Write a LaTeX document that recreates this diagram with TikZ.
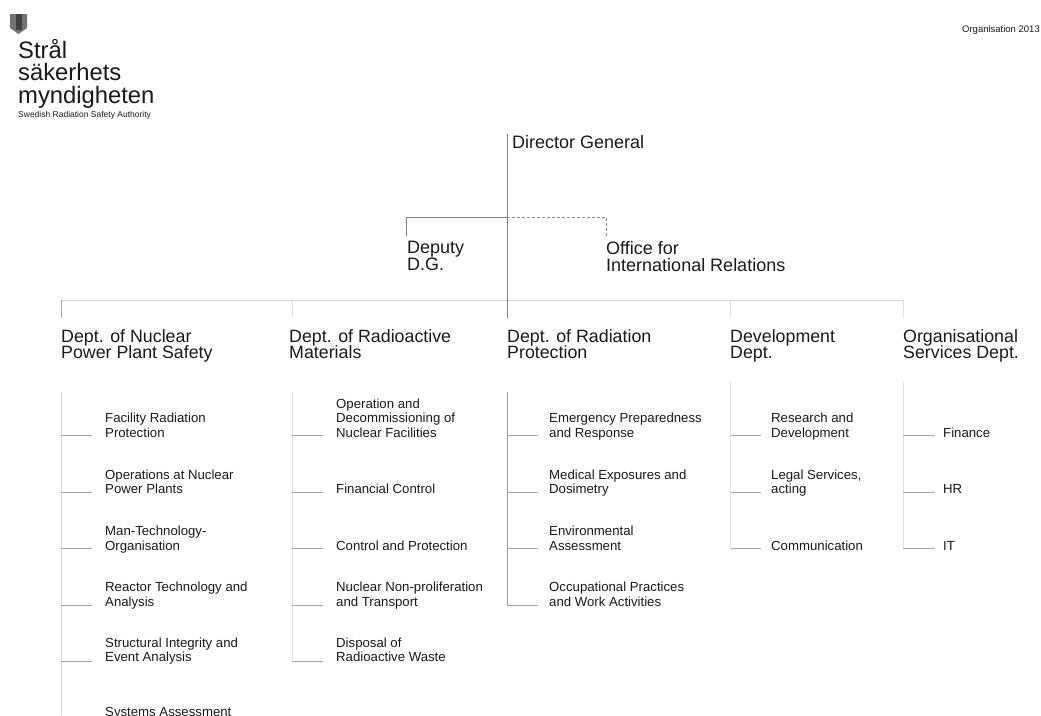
\documentclass[tikz,border=0pt]{standalone}
\usepackage{fontspec}
\setmainfont{Liberation Sans}
\newcommand{\tightlines}{\lineskiplimit=-30pt\relax}
\begin{document}
\begin{tikzpicture}[x=1pt,y=-1pt,
  txt/.style={inner sep=0pt,anchor=base west,align=left,text=black!90,execute at begin node={\tightlines}},
  head/.style={txt,font=\fontsize{17.8}{15.6}\selectfont},
  headwide/.style={txt,font=\fontsize{18}{17}\selectfont},
  sub/.style={txt,font=\fontsize{13.2}{14.2}\selectfont},
  dark/.style={draw=black!50,line width=1pt},
  mid/.style={draw=black!35,line width=.8pt},
  pale/.style={draw=black!15,line width=1pt},
  paler/.style={draw=black!12,line width=.8pt}]
\useasboundingbox (0,0) rectangle (1041,715);
\clip (0,0) rectangle (1041,715);
% logo
\fill[black!55] (10,14) -- (27,14) -- (27,28) -- (18.5,34) -- (10,28) -- cycle;
\fill[black!75] (16,14) rectangle (22,30);
\node[txt,font=\fontsize{23.8}{22.5}\selectfont] (logo) at (18,103) {Strål\\säkerhets\\myndigheten};
\node[txt,font=\fontsize{8.5}{9}\selectfont] (logosub) at (18,117) {Swedish Radiation Safety Authority};
\node[txt,font=\fontsize{9.5}{10}\selectfont,anchor=base east] (year) at (1040,32) {Organisation 2013};
% top
\node[headwide] (dg) at (512,148) {Director General};
\node[headwide] (deputy) at (407,270) {Deputy\\D.G.};
\node[headwide] (office) at (606,271) {Office for\\International Relations};
\coordinate (dgtop) at (507,134);
\coordinate (dgbot) at (507,318);
\coordinate (br) at (507,217);
\coordinate (depend) at (406,236);
\coordinate (offend) at (606,236);
\coordinate (barL) at (61,300);
\coordinate (barR) at (903,300);
\draw[pale] (barL) -- (barR);
\draw[dark] (dgtop) -- (dgbot);
\draw[dark] (br) -| (depend);
\draw[densely dashed,draw=black!45,line width=.8pt] (br) -| (offend);
% departments
\node[head] (d1) at (61,358) {Dept. of Nuclear\\Power Plant Safety};
\node[head] (d2) at (289,358) {Dept. of Radioactive\\Materials};
\node[head] (d3) at (507,358) {Dept. of Radiation\\Protection};
\node[head] (d4) at (730,358) {Development\\Dept.};
\node[head] (d5) at (903,358) {Organisational\\Services Dept.};
\draw[mid] (barL) -- (61,318);
\draw[paler] (292,300) -- (292,318);
\draw[paler] (730,300) -- (730,318);
\draw[paler] (903,300) -- (903,318);
% column 1
\coordinate (c1a) at (61,392); \coordinate (c1b) at (61,715);
\draw[pale] (c1a) -- (c1b);
\node[sub] (s1a) at (105,437) {Facility Radiation\\Protection};
\node[sub] (s1b) at (105,493.5) {Operations at Nuclear\\Power Plants};
\node[sub] (s1c) at (105,550) {Man-Technology-\\Organisation};
\node[sub] (s1d) at (105,606) {Reactor Technology and\\Analysis};
\node[sub] (s1e) at (105,661.5) {Structural Integrity and\\Event Analysis};
\node[sub] (s1f) at (105,716.5) {Systems Assessment};
\foreach \y in {435.5,492,548,605,661}{\draw[mid] (61,\y) -- ++(31,0);}
% column 2
\coordinate (c2a) at (292,392); \coordinate (c2b) at (292,661);
\draw[paler] (c2a) -- (c2b);
\node[sub] (s2a) at (336,437) {Operation and\\Decommissioning of\\Nuclear Facilities};
\node[sub] (s2b) at (336,493.5) {Financial Control};
\node[sub] (s2c) at (336,550) {Control and Protection};
\node[sub] (s2d) at (336,606) {Nuclear Non-proliferation\\and Transport};
\node[sub] (s2e) at (336,661.5) {Disposal of\\Radioactive Waste};
\foreach \y in {435.5,492,548,605,661}{\draw[mid] (292,\y) -- ++(31,0);}
% column 3
\coordinate (c3a) at (507,392); \coordinate (c3b) at (507,605);
\draw[draw=black!40,line width=1pt] (c3a) -- (c3b);
\node[sub] (s3a) at (549,437) {Emergency Preparedness\\and Response};
\node[sub] (s3b) at (549,493.5) {Medical Exposures and\\Dosimetry};
\node[sub] (s3c) at (549,550) {Environmental\\Assessment};
\node[sub] (s3d) at (549,606) {Occupational Practices\\and Work Activities};
\foreach \y in {435.5,492,548,605}{\draw[mid] (507,\y) -- ++(31,0);}
% column 4
\coordinate (c4a) at (730,382); \coordinate (c4b) at (730,548);
\draw[paler] (c4a) -- (c4b);
\node[sub] (s4a) at (771,437) {Research and\\Development};
\node[sub] (s4b) at (771,493.5) {Legal Services,\\acting};
\node[sub] (s4c) at (771,550) {Communication};
\foreach \y in {435.5,492,548}{\draw[mid] (731,\y) -- ++(30,0);}
% column 5
\coordinate (c5a) at (903,382); \coordinate (c5b) at (903,548);
\draw[paler] (c5a) -- (c5b);
\node[sub] (s5a) at (943,437) {Finance};
\node[sub] (s5b) at (943,493.5) {HR};
\node[sub] (s5c) at (943,550) {IT};
\foreach \y in {435.5,492,548}{\draw[mid] (903,\y) -- ++(32,0);}
\end{tikzpicture}
\end{document}
